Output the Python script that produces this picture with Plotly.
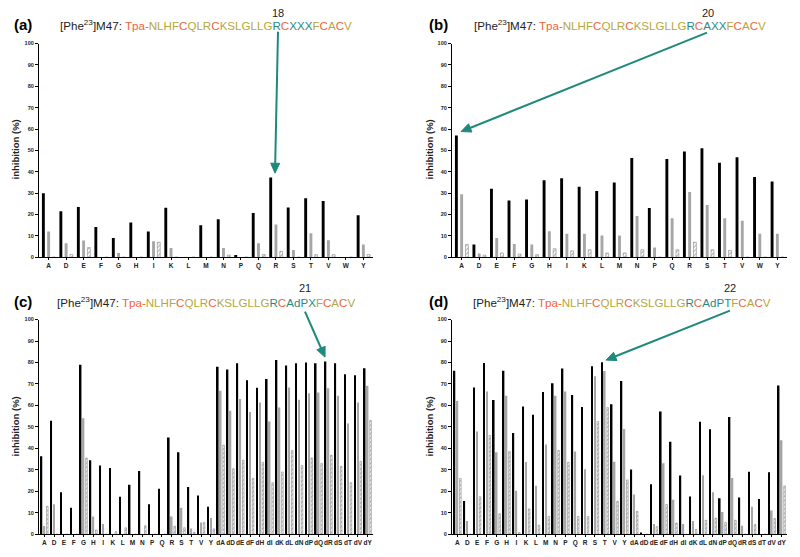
import math
import plotly.graph_objects as go

# ---------------- data ----------------
cats_ab = ["A", "D", "E", "F", "G", "H", "I", "K", "L", "M", "N", "P", "Q", "R", "S", "T", "V", "W", "Y"]
cats_cd = ["A", "D", "E", "F", "G", "H", "I", "K", "L", "M", "N", "P", "Q", "R", "S", "T", "V", "Y",
           "dA", "dD", "dE", "dF", "dH", "dI", "dK", "dL", "dN", "dP", "dQ", "dR", "dS", "dT", "dV", "dY"]

a_black = [30, 21.5, 23.5, 14.2, 9, 16.3, 12, 23.2, 0, 15, 17.8, 1, 20.7, 37.3, 23.3, 27.6, 26.3, 0, 19.6]
a_gray = [12, 6.5, 7.8, 0, 2, 0, 7.5, 4.3, 0, 0, 4.3, 0, 6.6, 15.3, 3.4, 11.2, 8, 0, 6]
a_hatch = [0, 1.3, 4.5, 0, 0, 0, 7, 0, 0, 0, 1, 0, 1.3, 2.8, 0, 1.2, 1.2, 0, 1.3]

b_black = [57, 6, 32, 26.5, 27, 36, 37, 33, 31, 35, 46.5, 23, 46, 49.5, 51, 44.2, 46.8, 37.5, 35.5]
b_gray = [29.5, 1.8, 9, 6.2, 6, 12.2, 11, 11, 10.2, 10.2, 19.3, 4.5, 18.3, 30.5, 24.5, 18.2, 17.1, 11, 11]
b_hatch = [6, 1, 2, 1.5, 1.2, 4, 3, 3.5, 2, 2, 3.5, 0, 3.5, 7, 3.5, 3.2, 0, 0, 0]

c_black = [36.3, 52.8, 19.5, 12.3, 79, 34.5, 32, 30.8, 17.5, 23, 29.5, 14, 21.2, 45, 38.2, 22, 18, 12.8,
           78, 76.7, 79.6, 71.7, 68.2, 72.3, 81.2, 78.6, 79.7, 80, 79.7, 80.5, 79.7, 74.5, 74, 77.3]
c_gray = [3.8, 14, 0, 0, 54, 8.3, 4.7, 0, 0, 0, 0, 0, 0, 8.3, 12.3, 2.7, 5.5, 7.5,
          66.8, 57.5, 63, 56.9, 61.3, 52.5, 59, 68.3, 62.6, 65.7, 66, 68, 64.5, 51.6, 61.3, 69.2]
c_hatch = [13, 0, 0, 0, 35.5, 2, 0, 1.2, 3, 0, 4, 0, 0, 3.8, 3, 1, 5.5, 2.5,
           41.5, 30.5, 34.5, 26, 33.5, 24, 29, 39, 32, 35.5, 33, 36.8, 31.6, 24, 34, 53]

d_black = [76.2, 15.5, 68.4, 79.8, 62.5, 76.2, 47.2, 59.5, 55.6, 66.2, 70.3, 77.2, 64.8, 59.3, 78.2, 80.1, 60.5, 71.4,
           30.2, 0.8, 23.3, 57.2, 43.1, 27.4, 17.6, 52.4, 48.9, 16.8, 54.6, 17.1, 29.1, 16.4, 28.9, 69.3]
d_gray = [62, 6.2, 47.8, 66.5, 38.2, 64.5, 20.3, 33.6, 22.6, 41.8, 64.5, 66.5, 38.5, 30.3, 73.6, 76, 33.8, 49,
          18.5, 0, 4.8, 33, 16, 4.8, 6.2, 27.5, 19.6, 10.3, 26.2, 4, 12.8, 0, 11, 43.8]
d_hatch = [26, 0, 17.5, 46, 9.5, 38.5, 0.8, 11.8, 4.2, 8.3, 39, 33.5, 8.3, 8.3, 52.5, 59, 15.3, 25.3,
           10.6, 0, 3.5, 13.8, 5.2, 0, 2.2, 6.5, 7.5, 5.5, 6.5, 0, 4.5, 0, 7.3, 22.5]

y_ticks = list(range(0, 101, 10))

# ---------------- figure ----------------
W, H = 800, 557
fig = go.Figure()

panels = [
    (cats_ab, a_black, a_gray, a_hatch),
    (cats_ab, b_black, b_gray, b_hatch),
    (cats_cd, c_black, c_gray, c_hatch),
    (cats_cd, d_black, d_gray, d_hatch),
]

def px_x(v):
    return v / W

def px_y(v):
    return 1 - v / H

# pixel geometry (left, right, y0, y100)
geo = [
    (39, 373, 257, 41),
    (452, 787, 257, 41),
    (39, 373, 537, 320),
    (452, 787, 537, 320),
]

for i, (cats, bk, gr, ht) in enumerate(panels):
    sfx = "" if i == 0 else str(i + 1)
    xa, ya = "x" + sfx, "y" + sfx
    fig.add_bar(x=cats, y=bk, xaxis=xa, yaxis=ya, marker=dict(color="black", line=dict(width=0)),
                offsetgroup="1", showlegend=False)
    fig.add_bar(x=cats, y=gr, xaxis=xa, yaxis=ya, marker=dict(color="#a6a6a6", line=dict(width=0)),
                offsetgroup="2", showlegend=False)
    fig.add_bar(x=cats, y=ht, xaxis=xa, yaxis=ya,
                marker=dict(color="white", line=dict(width=0.5, color="#777"),
                            pattern=dict(shape="/", fgcolor="#555", bgcolor="white", size=3, solidity=0.35)),
                offsetgroup="3", showlegend=False)
    l, r, y0, y100 = geo[i]
    n = len(cats)
    fig.layout["xaxis" + sfx] = dict(
        domain=[px_x(l), px_x(r)], anchor=ya, range=[-0.55, n - 0.45],
        showline=True, linecolor="black", linewidth=1.2, ticks="outside", ticklen=2,
        tickcolor="black", tickfont=dict(size=6.5, family="Arial", color="#222", weight="bold"),
        showgrid=False, zeroline=False, tickangle=0, fixedrange=True)
    fig.layout["yaxis" + sfx] = dict(
        domain=[px_y(y0), px_y(y100)], anchor=xa, range=[0, 100],
        tickvals=y_ticks, showline=True, linecolor="black", linewidth=1.2, ticks="outside",
        ticklen=3, tickcolor="black", tickfont=dict(size=5.5, family="Arial", color="#222", weight="bold"),
        showgrid=False, zeroline=False, fixedrange=True)

fig.update_layout(
    width=W, height=H, margin=dict(l=0, r=0, t=0, b=0),
    paper_bgcolor="white", plot_bgcolor="white",
    barmode="group", bargap=0.1, bargroupgap=0.45,
    font=dict(family="Arial"),
)

OR, OL, TE = "#f0643c", "#b4a83c", "#2a8a8a"

def span(t, c):
    return f"<span style='color:{c}'>{t}</span>"

def seq(var):
    head = "[Phe<sup>23</sup>]M47: "
    s = (span("Tpa-", OR) + span("NLHF", OL) + span("C", OR) + span("QLR", OL) + span("C", OR)
         + span("KSLGLLG", OL) + span("R", TE) + span("C", OR) + span(var, TE) + span("F", OL)
         + span("C", OR) + span("A", OL) + span("C", OR) + span("V", OL))
    return head + s

titles = [("(a)", 12, 22, 60, "XXX", "18", 278, 10),
          ("(b)", 427, 22, 474, "AXX", "20", 708, 10),
          ("(c)", 12, 302, 57, "AdPX", "21", 305, 288),
          ("(d)", 427, 302, 473, "AdPT", "22", 730, 288)]

for lab, lx, ly, tx, var, num, nx, ny in titles:
    fig.add_annotation(text=f"<b>{lab}</b>", xref="paper", yref="paper", x=px_x(lx), y=px_y(ly),
                       xanchor="left", yanchor="middle", showarrow=False,
                       font=dict(size=15, family="Arial", color="black"))
    fig.add_annotation(text=seq(var), xref="paper", yref="paper", x=px_x(tx - 2), y=px_y(ly),
                       xanchor="left", yanchor="middle", showarrow=False,
                       font=dict(size=11.6, family="Arial", color="#222"))
    fig.add_annotation(text=num, xref="paper", yref="paper", x=px_x(nx), y=px_y(ny),
                       xanchor="center", yanchor="middle", showarrow=False,
                       font=dict(size=11, family="Arial", color="#222"))

# y axis titles
for yx, yy in [(15, 148), (429, 148), (15, 428), (429, 428)]:
    fig.add_annotation(text="<b>inhibition (%)</b>", xref="paper", yref="paper", x=px_x(yx), y=px_y(yy),
                       xanchor="center", yanchor="middle", textangle=-90, showarrow=False,
                       font=dict(size=9.5, family="Arial", color="#222"))

# arrows drawn as shapes: (tip, tail) in pixels
TEAL = "#1f8a7c"
HEAD_L, HEAD_W = 10, 4.5
for (tipx, tipy), (tailx, taily) in [((275, 172), (278, 29)), ((461, 130), (707, 30)),
                                     ((325, 358), (305, 312)), ((606, 361), (730, 311))]:
    dx, dy = tipx - tailx, tipy - taily
    d = math.hypot(dx, dy)
    ux, uy = dx / d, dy / d
    bx, by = tipx - HEAD_L * ux, tipy - HEAD_L * uy
    nx_, ny_ = -uy, ux
    fig.add_shape(type="line", xref="paper", yref="paper",
                  x0=px_x(tailx), y0=px_y(taily), x1=px_x(bx + ux), y1=px_y(by + uy),
                  line=dict(color=TEAL, width=2))
    p1 = (bx + HEAD_W * nx_, by + HEAD_W * ny_)
    p2 = (bx - HEAD_W * nx_, by - HEAD_W * ny_)
    path = (f"M {px_x(tipx)} {px_y(tipy)} L {px_x(p1[0])} {px_y(p1[1])} "
            f"L {px_x(p2[0])} {px_y(p2[1])} Z")
    fig.add_shape(type="path", xref="paper", yref="paper", path=path,
                  fillcolor=TEAL, line=dict(color=TEAL, width=1))

fig.write_html("out.html", config={"displayModeBar": False},
               post_script="document.body.style.margin='0';document.body.style.overflow='hidden';")
